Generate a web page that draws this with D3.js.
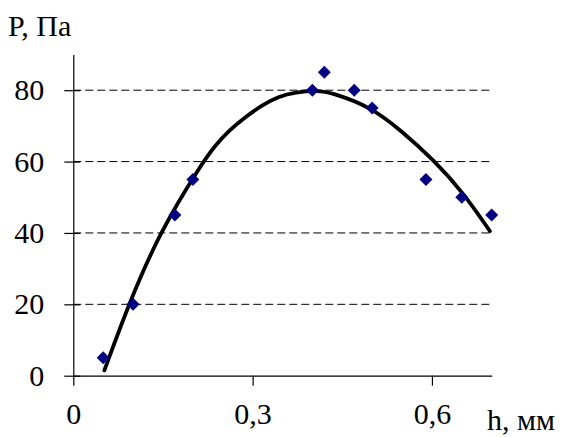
<!DOCTYPE html>
<html>
<head>
<meta charset="utf-8">
<script src="https://cdn.jsdelivr.net/npm/d3@7"></script>
</head>
<body style="margin:0;background:#fff">
<svg class="chart" width="561" height="437" font-family="Liberation Serif"></svg>
<script>
// measured points
var hData = [0.05, 0.1, 0.17, 0.2, 0.4, 0.42, 0.47, 0.5, 0.59, 0.65, 0.7];
var pData = [5, 20, 45, 55, 80, 85, 80, 75, 55, 50, 45];

// trend line
var trendH = [0.052, 0.0925, 0.144, 0.215, 0.2375, 0.26, 0.288, 0.316, 0.343, 0.371, 0.41, 0.43, 0.497, 0.547, 0.603, 0.653, 0.697];
var trendP = [1.5, 20, 40, 59.5, 64.5, 68.6, 72.5, 75.8, 78.2, 79.5, 79.9, 79.4, 75.4, 68.9, 60.5, 51.2, 40.5];

var xTicks = [0, 0.3, 0.6];
var yTicks = [0, 20, 40, 60, 80];
var gridTicks = [20, 40, 60, 80];

var FONT = "Liberation Serif";

var svg = d3.select(".chart"),
    ru = d3.formatLocale({decimal: ",", thousands: " ", grouping: [3], currency: ["", ""]}),
    fmt = ru.format("~g");

var x = d3.scaleLinear().domain([0, 0.7]).range([73.3, 491.7]),
    y = d3.scaleLinear().domain([0, 90]).range([375.7, 54.5]);

// dashed grid
svg.append("g").selectAll("line")
    .data(gridTicks)
    .join("line")
    .attr("x1", x(0)).attr("x2", x(0.7))
    .attr("y1", d => y(d)).attr("y2", d => y(d))
    .attr("stroke", "#000")
    .attr("stroke-width", 1)
    .attr("stroke-dasharray", "8,4");

var yAxis = d3.axisLeft(y).tickValues(yTicks).tickFormat(fmt)
    .tickSizeInner(9).tickSizeOuter(0).tickPadding(20);
var xAxis = d3.axisBottom(x).tickValues(xTicks).tickFormat(fmt)
    .tickSizeInner(10).tickSizeOuter(0).tickPadding(17);

var gy = svg.append("g").attr("transform", "translate(" + x(0) + ",0)").call(yAxis);
gy.selectAll(".tick line").attr("x1", 7);

var gx = svg.append("g").attr("transform", "translate(0," + y(0) + ")").call(xAxis);

svg.selectAll(".domain, .tick line").attr("stroke", "#000").attr("stroke-width", 1.2);
gy.attr("font-family", FONT).attr("font-size", 30);
gx.attr("font-family", FONT).attr("font-size", 30);
svg.selectAll(".tick text")
    .attr("font-family", FONT)
    .attr("font-size", 30)
    .attr("fill", "#000");

// trend curve
var trend = trendH.map((h, i) => [h, trendP[i]]);
svg.append("path")
    .datum(trend)
    .attr("fill", "none")
    .attr("stroke", "#000")
    .attr("stroke-width", 3.8)
    .attr("stroke-linecap", "round")
    .attr("d", d3.line().x(d => x(d[0])).y(d => y(d[1])).curve(d3.curveBasis));

// diamonds
var sym = d3.symbol().type(d3.symbolSquare).size(84);
svg.append("g").selectAll("path")
    .data(hData.map((h, i) => [h, pData[i]]))
    .join("path")
    .attr("d", sym)
    .attr("fill", "#000080")
    .attr("transform", d => "translate(" + x(d[0]) + "," + y(d[1]) + ") rotate(45)");

// axis titles
svg.append("text")
    .attr("x", 8).attr("y", 36)
    .attr("font-family", FONT)
    .attr("font-size", 30)
    .text("P, Па");
svg.append("text")
    .attr("x", 487).attr("y", 430)
    .attr("font-family", FONT)
    .attr("font-size", 30)
    .text("h, мм");
</script>
</body>
</html>
